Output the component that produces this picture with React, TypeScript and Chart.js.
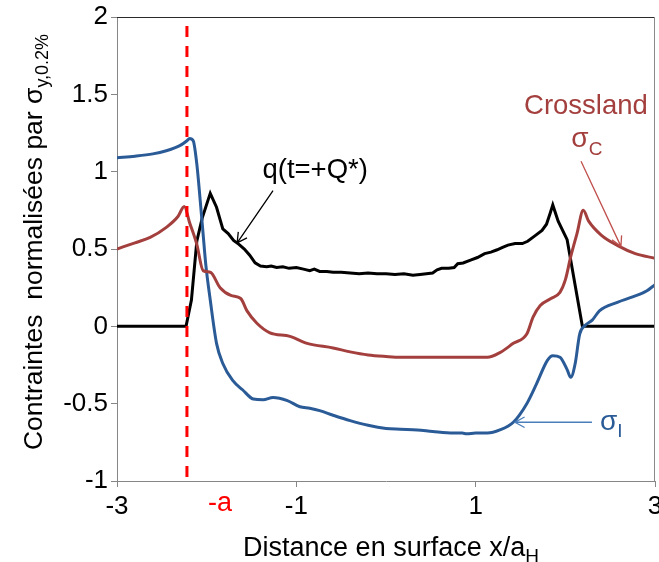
import React, { useEffect, useRef } from "react";
import { Chart, registerables } from "chart.js";

Chart.register(...registerables);

// ---- data (x/a_H, normalised stress) ----
const sigmaIX = [-3.0, -2.8, -2.6, -2.45, -2.35, -2.28, -2.22, -2.19, -2.15, -2.11, -2.07, -2.04, -2.01, -1.96, -1.89, -1.82, -1.71, -1.6, -1.48, -1.37, -1.26, -1.1, -0.96, -0.85, -0.74, -0.59, -0.4, -0.2, 0.0, 0.16, 0.35, 0.52, 0.75, 0.85, 0.9, 1.0, 1.13, 1.27, 1.42, 1.57, 1.68, 1.8, 1.86, 1.94, 2.02, 2.06, 2.11, 2.16, 2.22, 2.3, 2.38, 2.58, 2.75, 2.91, 3.0];
const sigmaIY = [1.09, 1.1, 1.115, 1.135, 1.155, 1.175, 1.2, 1.215, 1.2, 1.05, 0.8, 0.6, 0.4, 0.17, -0.11, -0.24, -0.35, -0.41, -0.47, -0.475, -0.46, -0.48, -0.52, -0.53, -0.545, -0.575, -0.61, -0.64, -0.66, -0.665, -0.67, -0.68, -0.69, -0.69, -0.695, -0.69, -0.69, -0.67, -0.62, -0.5, -0.37, -0.22, -0.19, -0.2, -0.28, -0.33, -0.24, -0.05, 0.005, 0.04, 0.1, 0.155, 0.19, 0.23, 0.27];

const crosslandX = [-3.0, -2.8, -2.63, -2.45, -2.32, -2.25, -2.19, -2.11, -2.04, -1.96, -1.85, -1.73, -1.62, -1.55, -1.44, -1.3, -1.07, -0.88, -0.59, -0.4, -0.2, 0.0, 0.16, 0.5, 0.8, 1.13, 1.27, 1.42, 1.57, 1.64, 1.72, 1.84, 1.94, 2.0, 2.06, 2.13, 2.2, 2.26, 2.4, 2.59, 2.78, 3.0];
const crosslandY = [0.5, 0.54, 0.575, 0.64, 0.71, 0.775, 0.67, 0.53, 0.36, 0.35, 0.25, 0.2, 0.18, 0.1, 0.02, -0.04, -0.065, -0.11, -0.14, -0.165, -0.185, -0.195, -0.2, -0.2, -0.2, -0.2, -0.17, -0.11, -0.05, 0.06, 0.135, 0.18, 0.22, 0.3, 0.45, 0.6, 0.75, 0.68, 0.59, 0.52, 0.47, 0.44];

const qX = [-3.0, -2.23, -2.17, -2.11, -2.05, -1.96, -1.89, -1.82, -1.76, -1.7, -1.64, -1.58, -1.52, -1.46, -1.4, -1.33, -1.28, -1.22, -1.15, -1.08, -1.0, -0.92, -0.85, -0.8, -0.74, -0.66, -0.59, -0.5, -0.4, -0.3, -0.2, -0.1, 0.0, 0.1, 0.2, 0.3, 0.38, 0.45, 0.52, 0.57, 0.62, 0.7, 0.76, 0.8, 0.86, 0.95, 1.02, 1.1, 1.17, 1.24, 1.3, 1.36, 1.44, 1.52, 1.58, 1.66, 1.74, 1.79, 1.83, 1.86, 1.92, 2.02, 2.19, 3.0];
const qY = [0, 0, 0.17, 0.55, 0.7, 0.86, 0.77, 0.63, 0.6, 0.555, 0.53, 0.5, 0.46, 0.41, 0.39, 0.385, 0.39, 0.38, 0.385, 0.375, 0.38, 0.37, 0.36, 0.37, 0.355, 0.355, 0.35, 0.35, 0.345, 0.34, 0.345, 0.34, 0.34, 0.335, 0.34, 0.33, 0.335, 0.34, 0.345, 0.365, 0.375, 0.375, 0.38, 0.405, 0.41, 0.43, 0.445, 0.47, 0.48, 0.495, 0.51, 0.525, 0.535, 0.535, 0.55, 0.585, 0.62, 0.66, 0.73, 0.785, 0.68, 0.56, 0, 0];

const edgeX = -2.22; // position of -a
const edgeLabelX = -1.85;

const FONT = '"Liberation Sans", Arial, Helvetica, sans-serif';
const BLUE = "#2a5b97";
const RED = "#a3403e";

const pts = (xs: number[], ys: number[]) => xs.map((x, i) => ({ x, y: ys[i] }));

function subText(ctx: CanvasRenderingContext2D, main: string, sub: string, x: number, y: number, size: number, subSize: number, drop: number, align: "left" | "center") {
  ctx.font = `${size}px ${FONT}`;
  const w1 = ctx.measureText(main).width;
  ctx.font = `${subSize}px ${FONT}`;
  const w2 = ctx.measureText(sub).width;
  const sx = align === "center" ? x - (w1 + w2) / 2 : x;
  ctx.textAlign = "left";
  ctx.textBaseline = "alphabetic";
  ctx.font = `${size}px ${FONT}`;
  ctx.fillText(main, sx, y);
  ctx.font = `${subSize}px ${FONT}`;
  ctx.fillText(sub, sx + w1, y + drop);
}

function arrow(ctx: CanvasRenderingContext2D, x1: number, y1: number, x2: number, y2: number, color: string, w: number) {
  ctx.strokeStyle = color;
  ctx.lineWidth = w;
  ctx.beginPath();
  ctx.moveTo(x1, y1);
  ctx.lineTo(x2, y2);
  const a = Math.atan2(y2 - y1, x2 - x1);
  const L = 11, s = 0.5;
  ctx.moveTo(x2 - L * Math.cos(a - s), y2 - L * Math.sin(a - s));
  ctx.lineTo(x2, y2);
  ctx.lineTo(x2 - L * Math.cos(a + s), y2 - L * Math.sin(a + s));
  ctx.stroke();
}

const annotations = {
  id: "annotations",
  afterDraw(chart: any) {
    const { ctx, chartArea: ca, scales } = chart;
    const xs = scales.x, ys = scales.y;
    const X = (v: number) => xs.getPixelForValue(v);
    const Y = (v: number) => ys.getPixelForValue(v);
    ctx.save();
    // frame top & right
    ctx.lineWidth = 1;
    ctx.strokeStyle = "#2a2a2a";
    ctx.beginPath();
    ctx.moveTo(ca.left, Math.round(ca.top) + 0.5);
    ctx.lineTo(ca.right, Math.round(ca.top) + 0.5);
    ctx.stroke();
    ctx.strokeStyle = "#8a8a8a";
    ctx.beginPath();
    ctx.moveTo(Math.round(ca.right) - 0.5, ca.top);
    ctx.lineTo(Math.round(ca.right) - 0.5, ca.bottom);
    ctx.stroke();

    // q label + arrow
    ctx.fillStyle = "#000";
    ctx.font = `27.5px ${FONT}`;
    ctx.textAlign = "center";
    ctx.textBaseline = "alphabetic";
    ctx.fillText("q(t=+Q*)", X(-0.79), Y(0.957));
    arrow(ctx, X(-1.26), Y(0.877), X(-1.66), Y(0.54), "#000", 1.3);

    // Crossland
    ctx.fillStyle = RED;
    ctx.font = `27.5px ${FONT}`;
    ctx.textAlign = "center";
    ctx.fillText("Crossland", X(2.23), Y(1.37));
    subText(ctx, "σ", "C", X(2.24), Y(1.157), 28, 19, 8, "center");
    arrow(ctx, X(2.175), Y(1.067), X(2.62), Y(0.517), "#c0504d", 1.3);

    // sigma I
    ctx.fillStyle = BLUE;
    subText(ctx, "σ", "I", X(2.386), Y(-0.672), 28, 19, 7, "left");
    arrow(ctx, X(2.297), Y(-0.62), X(1.438), Y(-0.62), "#4a7ebb", 1.3);

    // -a label
    ctx.fillStyle = "#ff0000";
    ctx.font = `27px ${FONT}`;
    ctx.textAlign = "center";
    ctx.textBaseline = "middle";
    ctx.fillText("-a", X(edgeLabelX), ca.bottom + 23);

    // axis titles
    ctx.fillStyle = "#000";
    subText(ctx, "Distance en surface x/a", "H", (ca.left + ca.right) / 2 + 5, ca.bottom + 75, 27, 19, 6, "center");
    ctx.translate(42, 242);
    ctx.rotate(-Math.PI / 2);
    subText(ctx, "Contraintes  normalisées par σ", "y,0.2%", 0, 0, 26.5, 18, 6, "center");
    ctx.restore();
  },
};

export default function App() {
  const ref = useRef<HTMLCanvasElement | null>(null);
  useEffect(() => {
    document.body.style.margin = "0";
    const canvas = ref.current!;
    const chart = new Chart(canvas, {
      type: "line",
      data: {
        datasets: [
          {
            label: "-a",
            data: [{ x: edgeX, y: 2 }, { x: edgeX, y: -1 }],
            borderColor: "#ff0000",
            borderWidth: 3,
            borderDash: [11, 9],
            borderDashOffset: 11,
            pointRadius: 0,
            tension: 0,
          },
          {
            label: "σC",
            data: pts(crosslandX, crosslandY),
            borderColor: RED,
            borderWidth: 3,
            pointRadius: 0,
            cubicInterpolationMode: "monotone",
          },
          {
            label: "σI",
            data: pts(sigmaIX, sigmaIY),
            borderColor: BLUE,
            borderWidth: 3,
            pointRadius: 0,
            cubicInterpolationMode: "monotone",
          },
          {
            label: "q",
            data: pts(qX, qY),
            borderColor: "#000",
            borderWidth: 3,
            pointRadius: 0,
            tension: 0,
          },
        ],
      },
      options: {
        animation: false,
        responsive: false,
        devicePixelRatio: 1,
        layout: { padding: { left: 0, top: 17, right: 4, bottom: 0 } },
        plugins: { legend: { display: false }, tooltip: { enabled: false } },
        scales: {
          x: {
            type: "linear",
            min: -3,
            max: 3,
            ticks: { stepSize: 2, color: "#000", font: { family: FONT, size: 26 }, padding: 4, maxRotation: 0, callback: (v: any) => String(v) },
            grid: { drawOnChartArea: false, tickLength: 6, color: "#868686" },
            border: { color: "#868686", width: 1 },
            afterFit: (s: any) => { s.height = 81; s.paddingLeft = 0; s.paddingRight = 0; },
          },
          y: {
            min: -1,
            max: 2,
            ticks: { stepSize: 0.5, color: "#000", font: { family: FONT, size: 26 }, padding: 3, callback: (v: any) => String(v) },
            grid: { drawOnChartArea: false, tickLength: 6, color: "#868686" },
            border: { color: "#868686", width: 1 },
            afterFit: (s: any) => { s.width = 117; s.paddingTop = 0; s.paddingBottom = 0; },
          },
        },
      },
      plugins: [annotations],
    });
    return () => chart.destroy();
  }, []);
  return (
    <div style={{ width: 659, height: 562, position: "relative" }}>
      <canvas ref={ref} width={659} height={562} style={{ width: 659, height: 562, display: "block" }} />
    </div>
  );
}
